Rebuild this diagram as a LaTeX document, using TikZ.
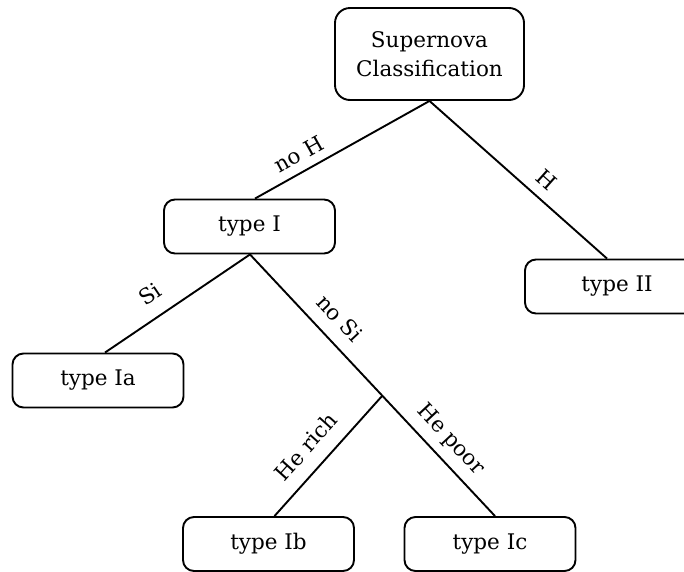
\documentclass[tikz,border=0pt]{standalone}
\usepackage{fontspec}
\setmainfont{DejaVu Serif}
\newcommand\labelfont{\fontsize{21.5}{29}\selectfont}
\begin{document}
\begin{tikzpicture}[x=1pt,y=-1pt,
  box/.style={draw, line width=1.9pt, rounded corners=11pt, align=center,
    minimum width=171pt, minimum height=54pt, inner sep=0pt, font=\labelfont},
  edge/.style={line width=1.9pt},
  lbl/.style={sloped, inner sep=0pt, font=\labelfont}]
\useasboundingbox (0,0) rectangle (684,571);

% decision tree nodes
\node[box, minimum width=189pt, minimum height=92pt, rounded corners=15pt] (sn) at (429.5,54) {Supernova\\Classification};
\node[box] (t1)  at (249.5,226.5) {type I};
\node[box, minimum width=184pt] (t2) at (617,286.5) {type II};
\node[box] (t1a) at (98,380.5)    {type Ia};
\node[box] (t1b) at (268.5,544)   {type Ib};
\node[box] (t1c) at (490,544)     {type Ic};

% attachment points of the branches
\coordinate (snS)  at (sn.south);
\coordinate (t1N)  at ([xshift=5.5pt]t1.north);
\coordinate (t1S)  at ([xshift=0.5pt]t1.south);
\coordinate (t2N)  at ([xshift=-10pt]t2.north);
\coordinate (t1aN) at ([xshift=7pt]t1a.north);
\coordinate (t1bN) at ([xshift=6pt]t1b.north);
\coordinate (t1cN) at ([xshift=5pt]t1c.north);

% branches
\draw[edge] (snS) -- node[lbl, above=8.5pt, pos=0.70] {no H} (t1N);
\draw[edge] (snS) -- node[lbl, above=10pt, pos=0.59] {H} (t2N);
\draw[edge] (t1S) -- node[lbl, above=14pt, pos=0.60] {Si} (t1aN);
\draw[edge] (t1S) -- node[lbl, above=13pt, pos=0.30] {no Si}
                     coordinate[pos=0.54] (fork)
                     node[lbl, above=8.5pt, pos=0.76] {He poor} (t1cN);
\draw[edge] (fork) -- node[lbl, above=14pt, pos=0.55] {He rich} (t1bN);
\end{tikzpicture}
\end{document}
